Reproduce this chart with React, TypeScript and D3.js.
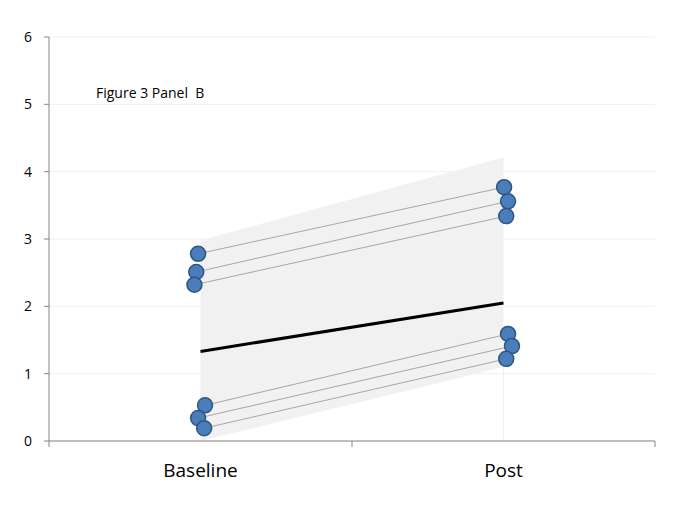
import React from "react";
import * as d3 from "d3";

// Categories and per-subject scores
const categories = ["Baseline", "Post"];
const baselineValues = [2.78, 2.51, 2.32, 0.53, 0.34, 0.19];
const postValues = [3.77, 3.56, 3.34, 1.59, 1.41, 1.22];
// Small horizontal offsets (in category units) so overlapping markers stay visible
const baselineJitter = [-0.008, -0.014, -0.02, 0.015, -0.008, 0.012];
const postJitter = [0.002, 0.015, 0.009, 0.015, 0.028, 0.009];
// Group mean and shaded range at each time point
const meanValues = [1.33, 2.05];
const bandUpper = [2.98, 4.21];
const bandLower = [0.0, 1.1];
const yTicks = [0, 1, 2, 3, 4, 5, 6];
const title = "Figure 3 Panel  B";

const W = 683;
const H = 512;
const left = 49;
const right = 655;
const top = 37;
const bottom = 441;

export default function App() {
  const x = d3.scaleLinear().domain([0.5, 2.5]).range([left, right]);
  const y = d3.scaleLinear().domain([0, 6]).range([bottom, top]);

  const catPos = categories.map((_, i) => i + 1);
  const xTicks = [0.5, 1.5, 2.5];

  const band = d3
    .area<number>()
    .x((d) => x(catPos[d]))
    .y0((d) => y(bandLower[d]))
    .y1((d) => y(bandUpper[d]));
  const bandPath = band([0, 1]) || "";

  const meanLine = d3
    .line<number>()
    .x((d) => x(catPos[d]))
    .y((d) => y(meanValues[d]));

  const pairs = baselineValues.map((b, i) => ({
    x0: x(catPos[0] + baselineJitter[i]),
    y0: y(b),
    x1: x(catPos[1] + postJitter[i]),
    y1: y(postValues[i]),
  }));

  const font = "'Open Sans', 'Noto Sans', sans-serif";

  return (
    <svg
      width={W}
      height={H}
      style={{ position: "absolute", left: 0, top: 0, background: "#fff" }}
    >
      {/* horizontal gridlines */}
      {yTicks.map((t) => (
        <line
          key={"g" + t}
          x1={left}
          x2={right}
          y1={y(t)}
          y2={y(t)}
          stroke="#f0f0f0"
          strokeWidth={1}
        />
      ))}

      {/* shaded range */}
      <path d={bandPath} fill="#f1f1f1" />
      <line
        x1={x(catPos[1])}
        x2={x(catPos[1])}
        y1={y(bandLower[1])}
        y2={bottom}
        stroke="#efefef"
        strokeWidth={1}
      />

      {/* subject trajectories */}
      {pairs.map((p, i) => (
        <line
          key={"p" + i}
          x1={p.x0}
          y1={p.y0}
          x2={p.x1}
          y2={p.y1}
          stroke="#a6a6a6"
          strokeWidth={1}
        />
      ))}

      {/* mean line */}
      <path
        d={meanLine([0, 1]) || ""}
        fill="none"
        stroke="#000"
        strokeWidth={3}
      />

      {/* markers */}
      {pairs.map((p, i) => (
        <g key={"m" + i}>
          <circle
            cx={p.x0}
            cy={p.y0}
            r={7.5}
            fill="#4a7ebb"
            stroke="#2f5583"
            strokeWidth={1.5}
          />
          <circle
            cx={p.x1}
            cy={p.y1}
            r={7.5}
            fill="#4a7ebb"
            stroke="#2f5583"
            strokeWidth={1.5}
          />
        </g>
      ))}

      {/* y axis */}
      <line x1={left} x2={left} y1={top} y2={bottom} stroke="#868686" />
      {yTicks.map((t) => (
        <g key={"y" + t}>
          <line
            x1={left - 5}
            x2={left}
            y1={y(t)}
            y2={y(t)}
            stroke="#868686"
          />
          <text
            x={32}
            y={y(t)}
            dy="0.35em"
            textAnchor="end"
            fontFamily={font}
            fontSize={14}
            fill="#000"
          >
            {t}
          </text>
        </g>
      ))}

      {/* x axis */}
      <line x1={left} x2={right} y1={bottom} y2={bottom} stroke="#868686" />
      {xTicks.map((t) => (
        <line
          key={"xt" + t}
          x1={x(t)}
          x2={x(t)}
          y1={bottom}
          y2={bottom + 6}
          stroke="#868686"
        />
      ))}
      {categories.map((c, i) => (
        <text
          key={c}
          x={x(catPos[i])}
          y={477}
          textAnchor="middle"
          fontFamily={font}
          fontSize={19}
          fill="#000"
        >
          {c}
        </text>
      ))}

      <text
        x={96}
        y={98}
        fontFamily={font}
        fontSize={14}
        fill="#000"
        style={{ whiteSpace: "pre" }}
      >
        {title}
      </text>
    </svg>
  );
}
